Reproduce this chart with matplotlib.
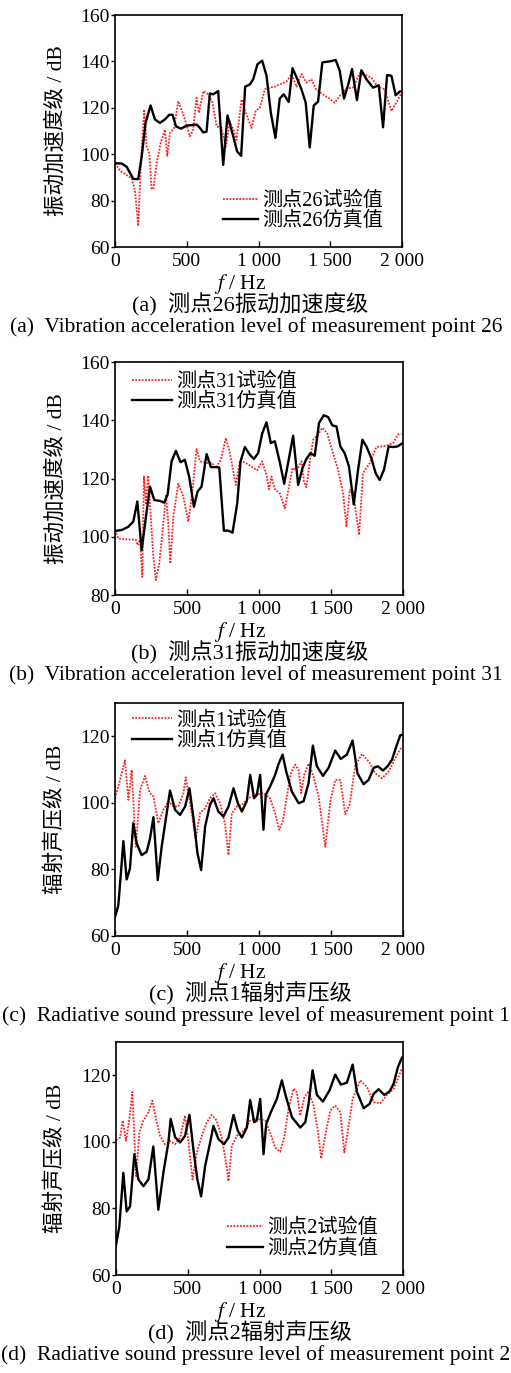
import matplotlib
matplotlib.use("Agg")
import matplotlib.pyplot as plt

plt.rcParams['font.family'] = ['Liberation Serif', 'Noto Sans CJK SC']
plt.rcParams['mathtext.fontset'] = 'stix'
plt.rcParams['axes.unicode_minus'] = False

# ---------------- data ----------------
x_ticks = [0, 500, 1000, 1500, 2000]
x_ticklabels = ["0", "500", "1 000", "1 500", "2 000"]

# (a) point 26, vibration acceleration level
a_sim_f = [0,46,81,128,162,186,213,248,278,313,348,378,401,425,459,499,568,592,615,638,661,684,719,754,784,824,851,879,907,940,963,993,1026,1056,1086,1118,1148,1176,1211,1237,1271,1299,1329,1357,1385,1415,1445,1496,1538,1566,1596,1624,1652,1686,1717,1752,1798,1838,1868,1896,1926,1956,1984,2000]
a_sim_db = [96.1,96,94.6,89.3,89.3,99,113.5,121,115,113.5,115,117,117,112,111,112.3,112.8,111.3,109.4,109.7,126.2,125.8,127.2,95.4,116.7,107.7,101.2,99.3,129.1,130.1,132.3,138.8,140.3,133.8,117.8,107,124,125.8,122.5,137.1,132.3,128,122.2,102.9,121,122.6,139.6,140,140.6,136,124,129.7,136.7,123.3,136.2,132.3,128.7,129.7,111.6,134.1,133.8,125.4,127,127.2]
a_test_f = [0,35,81,116,139,162,181,204,220,239,255,267,290,318,348,364,383,411,441,476,522,545,568,585,615,650,680,708,742,773,800,824,847,882,916,951,981,1009,1044,1079,1114,1148,1195,1230,1265,1299,1334,1369,1403,1450,1496,1531,1566,1612,1659,1705,1752,1786,1832,1879,1926,1960,1995]
a_test_db = [96,92.9,91,89.6,84.5,69,97.5,119.3,103.3,100.4,85.2,84.9,96,104.8,110.6,99,109.1,111.3,122.9,117.1,107.7,110.6,124.3,117.8,127.2,125.8,122.2,112,111.3,103.3,114.2,110.6,106.2,123.6,117.1,111.3,118.8,120,128,128.7,129.1,130.1,131.3,134.5,129.1,134.5,130.9,132.3,127.7,125.8,123.9,122.2,125.1,128.3,128.7,134.9,134,133,129.1,128,118.6,122.2,126.2]

# (b) point 31, vibration acceleration level
b_sim_f = [0,46,92,127,155,185,215,243,273,312,342,365,393,423,455,485,515,548,573,601,636,666,694,724,756,786,816,849,872,902,936,964,994,1022,1052,1082,1110,1145,1175,1202,1237,1272,1302,1329,1357,1387,1417,1450,1480,1510,1538,1565,1595,1625,1658,1688,1718,1746,1780,1810,1838,1868,1900,1931,1961,2000]
b_sim_db = [102,102.3,103.4,105.2,112.1,95.4,106.9,117.2,112.6,112.3,111.7,114.4,125.9,129.5,125.6,126.4,120.7,110.3,115.5,117.2,128.4,123.9,123.9,123.8,102.1,102.1,101.4,111.5,125.9,130.8,128.2,126.7,128.7,135.4,139.3,132.2,132.8,125.5,118.2,125.3,134.7,117.8,123.6,126.7,128.7,127.8,139.1,141.7,141.1,138.2,137.9,131,128.7,124.1,111.1,123,133.3,131,127,121.8,119.5,123,131,130.8,131,132.2]
b_test_f = [0,23,69,116,146,157,173,190,201,215,231,247,266,284,307,331,354,370,384,405,439,474,509,536,566,590,636,671,698,733,770,798,839,867,902,948,987,1022,1052,1068,1087,1110,1145,1179,1202,1233,1260,1295,1312,1329,1353,1376,1410,1440,1473,1510,1549,1584,1607,1630,1653,1672,1695,1722,1769,1815,1884,1931,1965,1988]
b_test_db = [102.3,99.4,99.1,99.1,98.9,97.1,98.9,86.2,120.7,111.5,121,108,93.1,85.1,90.8,102.3,114.4,104.6,90.8,106.9,118.2,113.8,105.2,115,130.1,125.9,125.3,125.5,123.6,126.2,133.9,128.7,117.8,126.2,125.5,124.1,122.8,125.9,121.3,116.3,120.7,116.3,114.9,109.8,115.5,123.6,122.8,125.9,119,117,125.9,133.3,135.1,137.4,135.6,129.3,123,114.9,103.4,116.1,115.5,108.6,100.6,121.8,125.3,130.8,131.3,132.2,135.1,135.4]

# (c) point 1, radiated sound pressure level
c_sim_f = [0,23,39,58,81,104,127,151,185,220,243,267,297,324,359,382,417,452,487,517,545,573,598,626,660,684,718,753,788,823,853,881,915,939,966,985,1008,1031,1047,1077,1112,1136,1164,1189,1228,1275,1310,1344,1374,1402,1444,1483,1529,1568,1610,1650,1684,1726,1761,1796,1826,1861,1893,1924,1958,1981,2000]
c_sim_db = [65.7,69.2,77.8,88.5,77,80.3,93.9,87.8,84.3,85.3,89.3,95.7,76.8,86.8,96.9,103.7,97.9,96.4,98.9,104.4,95.4,84.8,79.8,92.9,99.5,101.4,97.4,95.9,98.9,104.4,99.9,97.4,100.5,108.4,101.4,102.4,108.4,91.9,102.4,104.9,108.4,111.7,114.5,109.4,103.4,99.9,100.5,105.9,117.2,111,108.1,110.5,115.7,113.2,114.5,118.7,108.9,105.6,106.9,110.5,111,109.7,111,113,117.5,120.3,120.5]
c_test_f = [0,35,69,93,116,144,174,209,239,267,301,336,371,406,440,475,491,521,561,591,626,660,695,730,765,788,811,846,881,927,973,1031,1077,1112,1140,1165,1193,1221,1251,1275,1293,1314,1344,1379,1414,1460,1495,1529,1564,1599,1629,1668,1715,1761,1807,1854,1900,1947,1993]
c_test_db = [101.4,106.9,112.8,100.9,109.9,86.8,103.9,108.1,103.1,101.9,93.9,97.9,100.5,98.9,98.9,102.9,107.7,99.9,89.3,96.9,98.4,101.4,102.9,99.9,93.4,84.3,96.9,98.9,99.4,101.4,102.4,102.9,101.4,96.9,91.9,94.4,101.9,108.9,111.5,109.9,102.9,108.4,111.8,107.9,101.9,86.8,100.4,106.9,106.9,96.6,99.4,111,114.7,112.5,108.9,107.4,109.4,113.5,117]

# (d) point 2, radiated sound pressure level
d_sim_f = [0,23,51,74,98,128,156,191,226,260,295,330,365,381,412,447,481,512,540,567,593,621,656,679,714,753,784,819,849,877,912,935,963,981,1005,1028,1047,1079,1121,1156,1179,1226,1284,1319,1342,1370,1400,1442,1488,1528,1567,1609,1649,1679,1726,1767,1795,1830,1870,1907,1935,1965,1993]
d_sim_db = [69,74.5,90.7,79.1,80.6,96.3,88.7,86.7,88.7,98.6,79.6,90.7,99.8,106.9,101.4,99.8,101.8,108.1,97.5,88.7,83.6,92.7,99.8,104.8,100.8,99.3,101.3,108.1,103.3,101.3,104.3,112.6,105.9,106.4,112.9,96.3,105.4,108.9,112.9,118.5,114.4,107.4,104.3,105.9,111.4,121.5,114.1,112.1,115.5,120.2,117.2,117.8,123.2,115,110.1,111.4,114.4,115.8,114.1,115.2,117.5,122.5,125.3]
d_test_f = [0,28,47,70,93,114,140,163,191,226,253,284,307,340,377,412,447,481,505,533,563,598,633,667,702,737,767,784,807,842,888,935,981,1040,1074,1109,1144,1174,1202,1237,1260,1284,1312,1342,1377,1405,1430,1458,1493,1528,1563,1591,1614,1649,1702,1749,1795,1842,1888,1935,1993]
d_test_db = [100.6,101.3,106.4,100.3,106.9,115,89.7,102.8,106.4,108.9,112.4,105.9,101.8,99.3,100.3,99.3,101.3,107.9,99.8,88.7,96.8,101.8,105.9,108.1,106.4,101.3,93.7,88.2,98.8,101.8,103.3,106.4,106.9,106.4,102.8,98.3,97,101.8,109.9,116,114.9,107.9,113.4,115.2,110.9,103.8,95,101.8,109.4,110.9,108.9,96.8,102.8,112.9,118.5,116.5,111.9,111.6,114.1,115.9,122]

panels = [
    dict(sim=(a_sim_f, a_sim_db), test=(a_test_f, a_test_db),
         test_label="测点26试验值", sim_label="测点26仿真值",
         ylabel="振动加速度级 / dB", ylim=(60, 160), yticks=[60, 80, 100, 120, 140, 160],
         cap_cn="(a)  测点26振动加速度级",
         cap_en="(a)  Vibration acceleration level of measurement point 26"),
    dict(sim=(b_sim_f, b_sim_db), test=(b_test_f, b_test_db),
         test_label="测点31试验值", sim_label="测点31仿真值",
         ylabel="振动加速度级 / dB", ylim=(80, 160), yticks=[80, 100, 120, 140, 160],
         cap_cn="(b)  测点31振动加速度级",
         cap_en="(b)  Vibration acceleration level of measurement point 31"),
    dict(sim=(c_sim_f, c_sim_db), test=(c_test_f, c_test_db),
         test_label="测点1试验值", sim_label="测点1仿真值",
         ylabel="辐射声压级 / dB", ylim=(60, 130), yticks=[60, 80, 100, 120],
         cap_cn="(c)  测点1辐射声压级",
         cap_en="(c)  Radiative sound pressure level of measurement point 1"),
    dict(sim=(d_sim_f, d_sim_db), test=(d_test_f, d_test_db),
         test_label="测点2试验值", sim_label="测点2仿真值",
         ylabel="辐射声压级 / dB", ylim=(60, 130), yticks=[60, 80, 100, 120],
         cap_cn="(d)  测点2辐射声压级",
         cap_en="(d)  Radiative sound pressure level of measurement point 2"),
]

# ---------------- layout (pixels) ----------------
W, H = 511, 1373
boxes = [(115, 15, 287, 232), (115, 362, 288, 233), (115, 703, 288, 233), (116, 1042, 287, 233)]
leg_anchor = [(0.376, 0.155), (0.059, 0.871), (0.059, 0.880), (0.387, 0.155)]
leg_hlen = [1.75, 2.0, 2.0, 1.8]

fig = plt.figure(figsize=(W / 100, H / 100), dpi=100)
fs_tick = 14
fs_cap_en = 15.5
fs_cap_cn = 16
fs_leg = 14.5
fs_ylab = 15.5

for p, (l, t, w, h), anc, hl in zip(panels, boxes, leg_anchor, leg_hlen):
    ax = fig.add_axes([l / W, 1 - (t + h) / H, w / W, h / H])
    ax.plot(p['test'][0], p['test'][1], color='#ff2020', lw=1.3,
            linestyle=(0, (1, 0.8)), label=p['test_label'])
    ax.plot(p['sim'][0], p['sim'][1], color='black', lw=1.7, label=p['sim_label'])
    ax.set_xlim(0, 2000)
    ax.set_ylim(*p['ylim'])
    ax.set_xticks(x_ticks)
    ax.set_xticklabels(x_ticklabels)
    ax.set_yticks(p['yticks'])
    ax.tick_params(axis='x', direction='in', length=4, width=1.0, labelsize=fs_tick, pad=4)
    ax.tick_params(axis='y', direction='out', length=3, width=1.0, labelsize=fs_tick, pad=1)
    for s in ax.spines.values():
        s.set_linewidth(1.2)
    ax.legend(loc='center left', bbox_to_anchor=anc, frameon=False,
              fontsize=fs_leg, handlelength=hl, handletextpad=0.2,
              labelspacing=0.05, borderpad=0, borderaxespad=0)
    # y label
    fig.text(56 / W, 1 - (t + h / 2) / H, p['ylabel'], rotation=90,
             ha='center', va='center', fontsize=fs_ylab)
    # captions
    b = t + h
    fig.text(240 / W, 1 - (b + 37) / H, r"$f$ / Hz", ha='center', va='center', fontsize=fs_cap_en)
    fig.text(250 / W, 1 - (b + 58) / H, p['cap_cn'], ha='center', va='center', fontsize=fs_cap_cn)
    fig.text(256 / W, 1 - (b + 80) / H, p['cap_en'], ha='center', va='center', fontsize=fs_cap_en)

fig.savefig("out.png", dpi=100)
